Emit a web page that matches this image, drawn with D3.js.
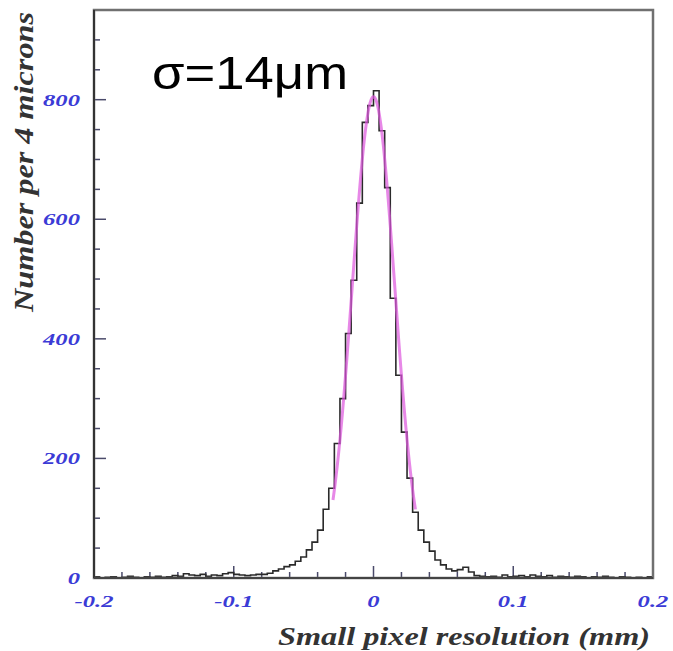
<!DOCTYPE html>
<html>
<head>
<meta charset="utf-8">
<script src="https://cdn.jsdelivr.net/npm/d3@7"></script>
<style>
  body { margin: 0; background: #fff; }
  svg { display: block; }
</style>
</head>
<body>
<div id="plot"></div>
<script>
// histogram: 100 bins of 4 microns from -0.2 to 0.2 mm
const binStart = -0.2;
const binWidth = 0.004;
const counts = [
  2, 0, 1, 2, 0, 1, 3, 1, 0, 2,
  1, 3, 1, 2, 4, 3, 7, 5, 4, 6,
  3, 5, 4, 7, 9, 6, 5, 4, 5, 6,
  6, 8, 12, 15, 19, 22, 28, 35, 47, 60,
  80, 115, 150, 225, 300, 409, 498, 627, 762, 790,
  815, 748, 653, 468, 339, 244, 167, 110, 80, 60,
  45, 30, 22, 15, 12, 14, 18, 10, 4, 3,
  2, 3, 1, 5, 2, 3, 4, 2, 5, 3,
  2, 4, 1, 3, 2, 1, 3, 2, 0, 2,
  1, 3, 1, 0, 2, 1, 0, 1, 0, 2
];

// gaussian fit drawn over the core
const fitAmp = 805;
const fitMean = 0.0;
const fitSigma = 0.0152;
const fitRange = [-0.029, 0.030];

const xMajor = [-0.2, -0.1, 0, 0.1, 0.2];
const xMajorLabels = ['-0.2', '-0.1', '0', '0.1', '0.2'];
const yMajor = [0, 200, 400, 600, 800];
const yMajorLabels = ['0', '200', '400', '600', '800'];

const width = 673, height = 651;
const margin = {top: 10, right: 20, bottom: 73, left: 94};

const svg = d3.select('#plot').append('svg')
  .attr('width', width)
  .attr('height', height);

const x = d3.scaleLinear()
  .domain([-0.2, 0.2])
  .range([margin.left, width - margin.right]);

const y = d3.scaleLinear()
  .domain([0, 950])
  .range([height - margin.bottom, margin.top]);

const tickColor = '#4a4a6a';
const labelColor = '#3b3bd6';
const serif = 'Liberation Serif, serif';

// ticks on the x axis (pointing up, inside)
const xMinor = d3.range(-0.2, 0.2001, 0.02);
svg.append('g').selectAll('line')
  .data(xMinor)
  .enter().append('line')
  .attr('x1', d => x(d)).attr('x2', d => x(d))
  .attr('y1', y(0))
  .attr('y2', (d, i) => y(0) - (i % 5 === 0 ? 12 : 6))
  .attr('stroke', tickColor)
  .attr('stroke-width', 1.5);

// ticks on the y axis (pointing right, inside)
const yMinor = d3.range(0, 901, 50);
svg.append('g').selectAll('line')
  .data(yMinor)
  .enter().append('line')
  .attr('x1', x(-0.2))
  .attr('x2', (d, i) => x(-0.2) + (i % 4 === 0 ? 12 : 6))
  .attr('y1', d => y(d)).attr('y2', d => y(d))
  .attr('stroke', tickColor)
  .attr('stroke-width', 1.5);

// histogram as a step line
const steps = [[binStart, 0]];
counts.forEach((c, i) => {
  steps.push([binStart + i * binWidth, c]);
  steps.push([binStart + (i + 1) * binWidth, c]);
});
steps.push([binStart + counts.length * binWidth, 0]);

const line = d3.line()
  .x(d => x(d[0]))
  .y(d => y(d[1]));

svg.append('path')
  .attr('d', line(steps))
  .attr('fill', 'none')
  .attr('stroke', '#2a2a2a')
  .attr('stroke-width', 1.6);

// fit curve
const fitPts = d3.range(fitRange[0], fitRange[1] + 1e-9, 0.0005).map(v =>
  [v, fitAmp * Math.exp(-Math.pow(v - fitMean, 2) / (2 * fitSigma * fitSigma))]);

svg.append('path')
  .attr('d', d3.line().curve(d3.curveBasis).x(d => x(d[0])).y(d => y(d[1]))(fitPts))
  .attr('fill', 'none')
  .attr('stroke', '#dd55dd')
  .attr('stroke-opacity', 0.7)
  .attr('stroke-width', 3);

// frame
svg.append('rect')
  .attr('x', x(-0.2)).attr('y', y(950))
  .attr('width', x(0.2) - x(-0.2))
  .attr('height', y(0) - y(950))
  .attr('fill', 'none')
  .attr('stroke', '#707070')
  .attr('stroke-width', 2.5);

svg.append('line')
  .attr('x1', x(-0.2)).attr('x2', x(-0.2))
  .attr('y1', y(950)).attr('y2', y(0))
  .attr('stroke', '#333').attr('stroke-width', 2);

svg.append('line')
  .attr('x1', x(-0.2)).attr('x2', x(0.2))
  .attr('y1', y(0)).attr('y2', y(0))
  .attr('stroke', '#444').attr('stroke-width', 2);

// tick labels (the originals are wide, so stretch them a bit)
svg.append('g').selectAll('text')
  .data(xMajor)
  .enter().append('text')
  .attr('transform', d => `translate(${x(d)},${y(0) + 29}) scale(1.45,1)`)
  .attr('text-anchor', 'middle')
  .attr('font-family', serif)
  .attr('font-style', 'italic')
  .attr('font-weight', 'bold')
  .attr('font-size', 17)
  .attr('fill', labelColor)
  .text((d, i) => xMajorLabels[i]);

svg.append('g').selectAll('text')
  .data(yMajor)
  .enter().append('text')
  .attr('transform', d => `translate(${x(-0.2) - 14},${y(d) + 6}) scale(1.45,1)`)
  .attr('text-anchor', 'end')
  .attr('font-family', serif)
  .attr('font-style', 'italic')
  .attr('font-weight', 'bold')
  .attr('font-size', 17)
  .attr('fill', labelColor)
  .text((d, i) => yMajorLabels[i]);

// axis titles
svg.append('text')
  .attr('x', 278)
  .attr('y', 645)
  .attr('textLength', 372)
  .attr('lengthAdjust', 'spacingAndGlyphs')
  .attr('font-family', serif)
  .attr('font-style', 'italic')
  .attr('font-weight', 'bold')
  .attr('font-size', 25)
  .attr('fill', '#333')
  .text('Small pixel resolution (mm)');

svg.append('text')
  .attr('transform', 'translate(33,312) rotate(-90)')
  .attr('textLength', 300)
  .attr('lengthAdjust', 'spacingAndGlyphs')
  .attr('font-family', serif)
  .attr('font-style', 'italic')
  .attr('font-weight', 'bold')
  .attr('font-size', 27)
  .attr('fill', '#333')
  .text('Number per 4 microns');

svg.append('text')
  .attr('x', 152)
  .attr('y', 89)
  .attr('textLength', 196)
  .attr('lengthAdjust', 'spacingAndGlyphs')
  .attr('font-family', 'Liberation Sans, Arial, sans-serif')
  .attr('font-size', 46)
  .attr('fill', '#000')
  .text('σ=14μm');
</script>
</body>
</html>
